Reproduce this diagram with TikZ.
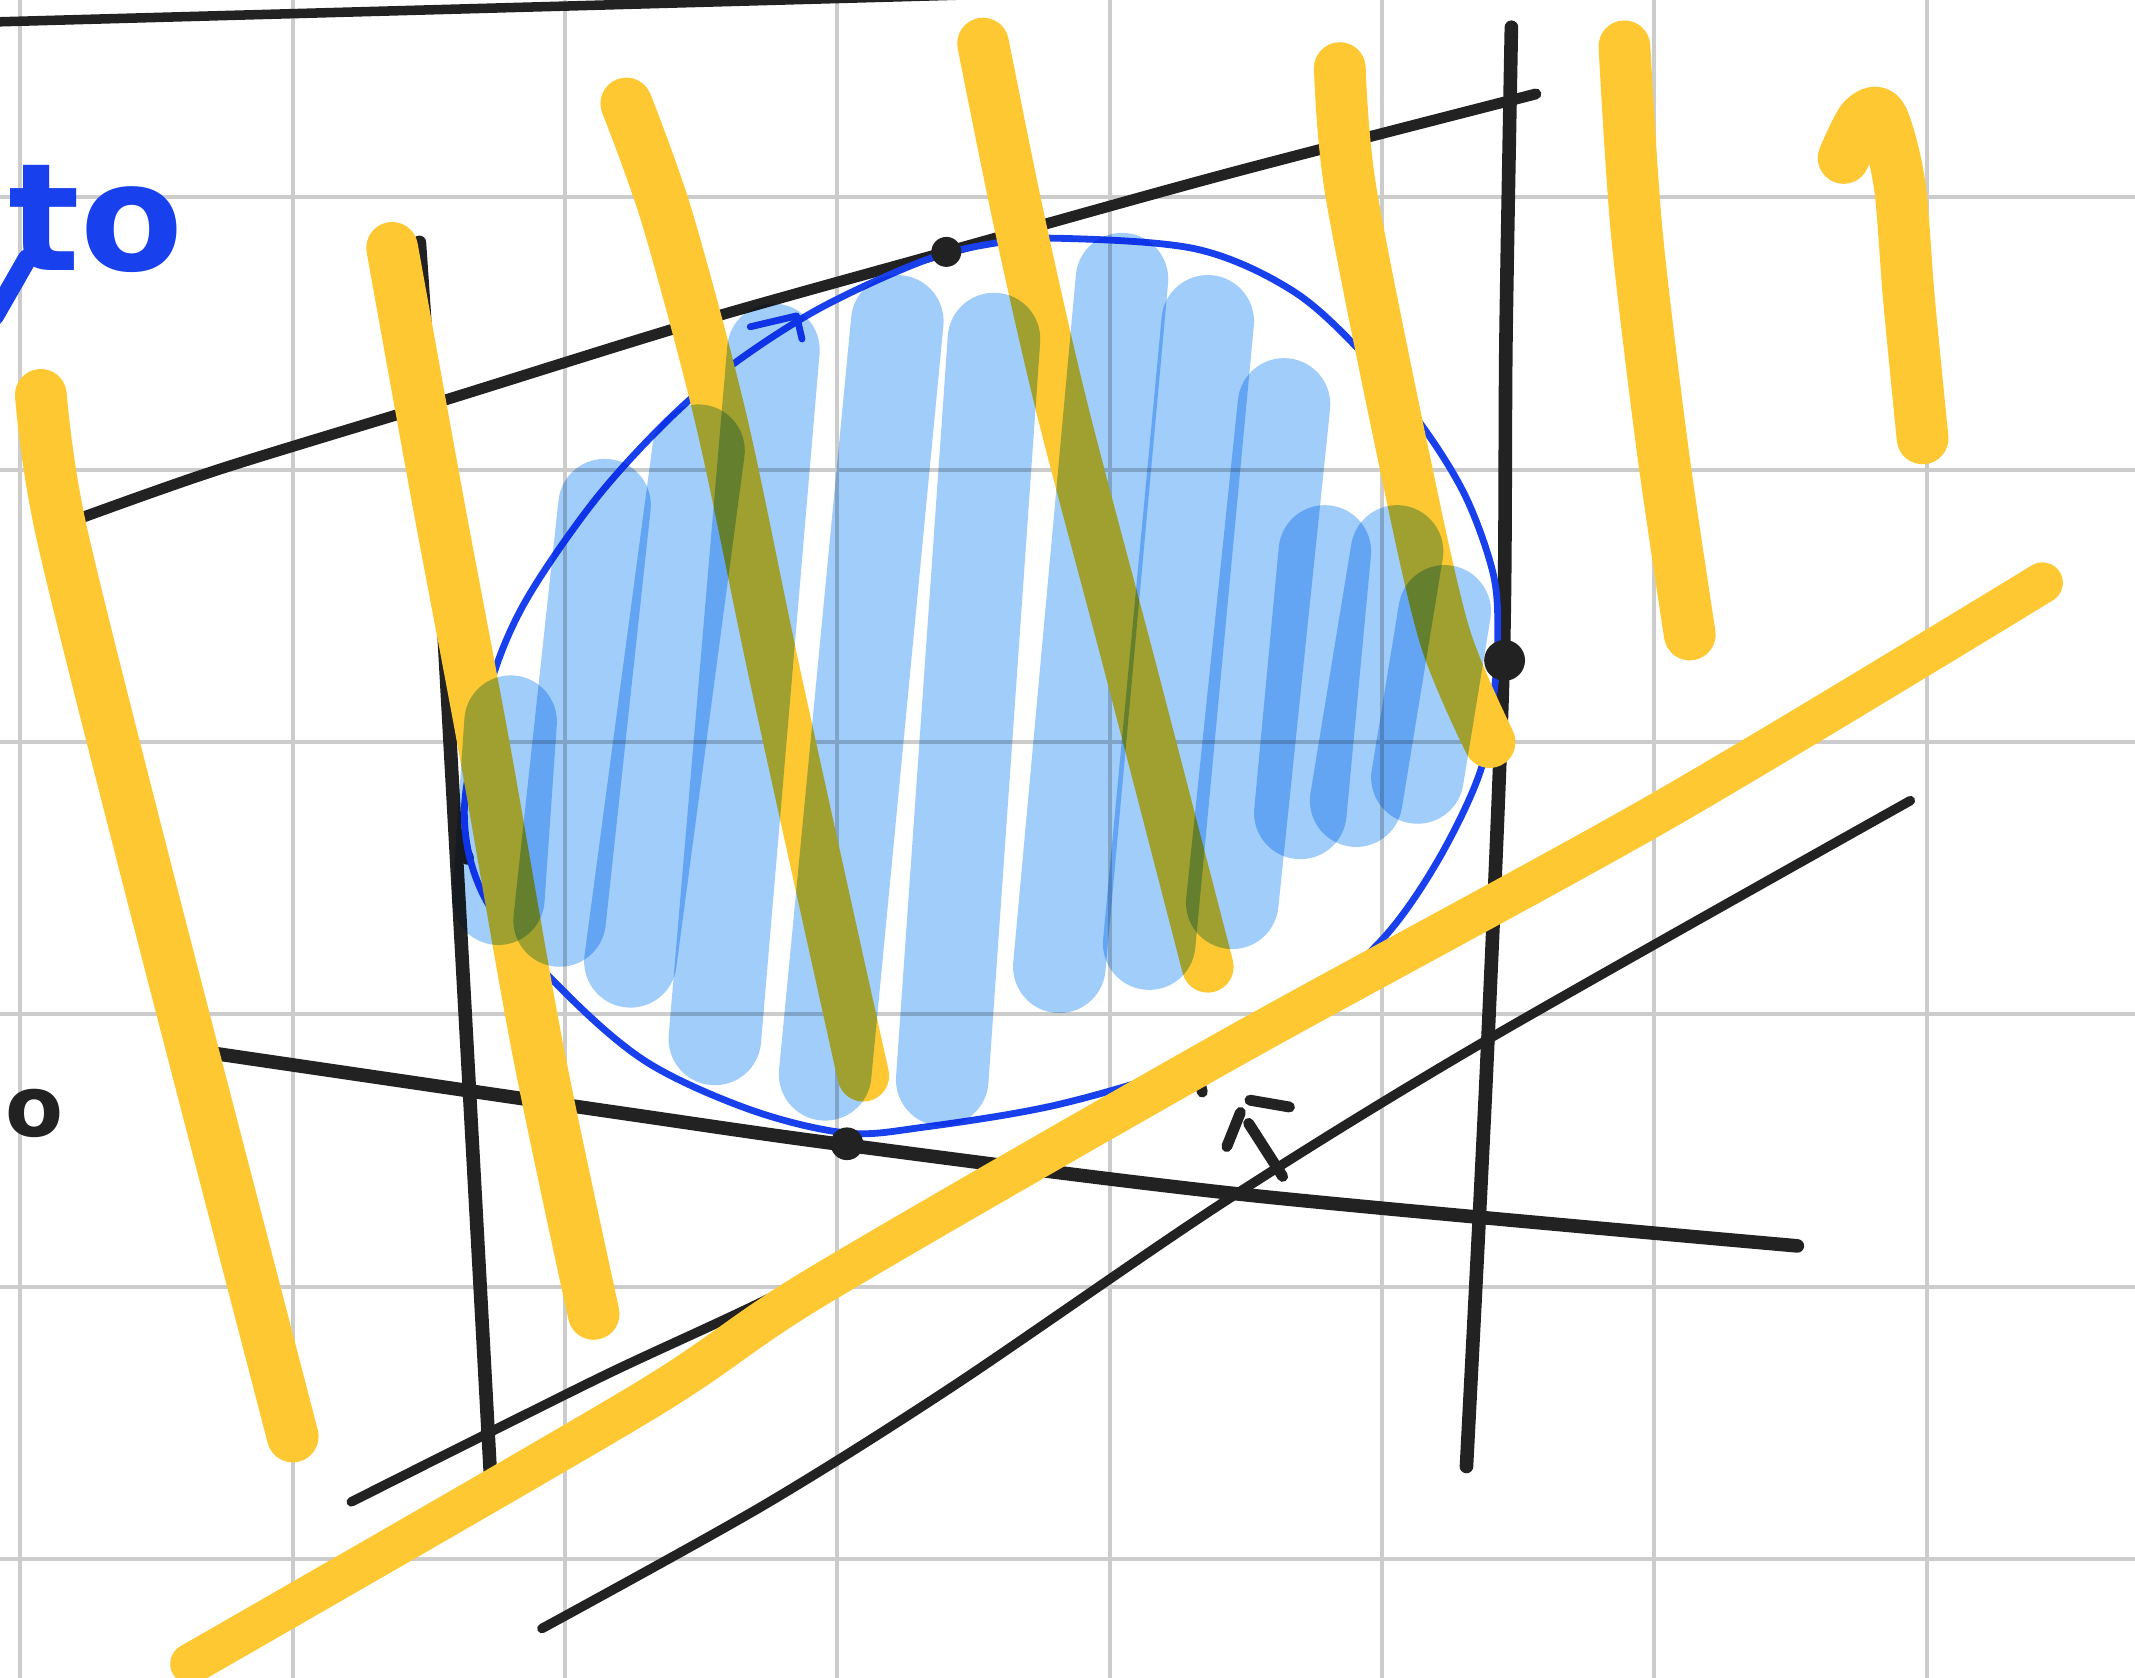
\documentclass[tikz,border=0pt]{standalone}
\usepackage{fontspec}
\newfontfamily\handfont{DejaVu Sans}
\definecolor{gridgray}{RGB}{204,204,204}
\definecolor{inkblack}{RGB}{34,34,34}
\definecolor{penblue}{RGB}{24,64,236}
\definecolor{fillblue}{RGB}{55,150,244}
\definecolor{hlyellow}{RGB}{254,200,50}
\tikzset{
  gridline/.style={draw=gridgray,line width=3pt},
  ink/.style={draw=inkblack,line width=8pt,line cap=round,line join=round},
  thickink/.style={ink,line width=10pt},
  hl/.style={draw=hlyellow,line width=38pt,line cap=round,line join=round},
  scrib/.style={draw=fillblue,draw opacity=0.47,line width=68pt,line cap=round},
  outline/.style={draw=penblue,line width=5pt,line cap=round,line join=round},
  dot/.style={fill=inkblack,draw=none}
}
\begin{document}
\begin{tikzpicture}[x=1pt,y=-1pt]
\useasboundingbox (0,0) rectangle (1568,1232);
\fill[white] (0,0) rectangle (1568,1232);
% grid
\foreach \gx in {15,215,...,1415} \draw[gridline] (\gx,0) -- (\gx,1232);
\foreach \gy in {145,345,...,1145} \draw[gridline] (0,\gy) -- (1568,\gy);

% black lines
\draw[ink,line width=7pt] (0,16) -- (720,-4);
\draw[ink] plot[smooth,tension=0.5] coordinates {(55,382) (160,345) (323,295) (510,237) (695,185) (900,128) (1128,69)};
\draw[thickink] plot[smooth,tension=0.5] coordinates {(308,178) (320,360) (335,625) (348,860) (360,1080)};
\draw[thickink] (335,612) -- (343,630);
\draw[thickink] plot[smooth,tension=0.5] coordinates {(1110,20) (1106,250) (1104,485) (1092,780) (1077,1077)};
\draw[thickink] plot[smooth,tension=0.5] coordinates {(160,774) (460,818) (622,841) (920,878) (1320,915)};
\draw[ink,line width=7pt] plot[smooth,tension=0.5] coordinates {(258,1103) (440,1012) (600,936) (900,776) (1220,600) (1463,462)};
\draw[ink] (880,790) -- (883,802);
\draw[ink,line width=7pt] plot[smooth,tension=0.5] coordinates {(398,1196) (560,1106) (700,1018) (900,882) (1090,765) (1403,588)};
% small hat mark
\draw[ink] (901,842) -- (911,817);
\draw[ink] (918,808) -- (947,813);
\draw[ink] (917,825) -- (942,864);

% blue outline
\draw[outline] plot[smooth cycle, tension=0.55] coordinates {
 (778,175) (879,183) (950,214) (1003,262) (1046,315) (1077,366) (1097,423)
 (1100,470) (1097,510) (1087,567) (1056,632) (1016,689) (960,737) (879,780)
 (778,811) (677,828) (621,832) (551,815) (475,780) (414,728) (358,663)
 (341,597) (358,510) (384,445) (434,371) (485,314) (535,270) (601,227)
 (677,192) (728,179)};
\draw[outline] (551,240) -- (585,232) -- (589,249);

% text
\node[anchor=base west,inner sep=0pt,text=penblue,font=\handfont\bfseries\fontsize{110}{110}\selectfont] (towd) at (6,199) {to};
\draw[draw=penblue,line width=14pt,line cap=round] (-4,232) -- (20,190);
\node[inner sep=0pt,text=inkblack,font=\handfont\bfseries\fontsize{62}{62}\selectfont] (oletter) at (25,818) {o};

% yellow highlighter strokes (opaque over ink)
\draw[hl] plot[smooth,tension=0.5] coordinates {(30,290) (45,390) (110,650) (215,1055)};
\draw[hl] plot[smooth,tension=0.5] coordinates {(288,182) (322,370) (356,551) (395,771) (436,965)};
\draw[hl] plot[smooth,tension=0.5] coordinates {(460,76) (490,160) (530,310) (570,500) (634,790)};
\draw[hl] plot[smooth,tension=0.5] coordinates {(722,32) (748,160) (780,300) (830,490) (887,710)};
\draw[hl] plot[smooth,tension=0.5] coordinates {(984,50) (992,140) (1031,336) (1061,467) (1094,545)};
\draw[hl] plot[smooth,tension=0.5] coordinates {(1193,34) (1202,170) (1221,330) (1241,466)};
\draw[hl] plot[smooth,tension=0.5] coordinates {(1354,116) (1368,88) (1382,86) (1395,135) (1402,220) (1412,322)};
\draw[hl,line width=30pt] plot[smooth,tension=0.5] coordinates {(140,1222) (470,1031) (600,945) (900,772) (1220,596) (1500,428)};

% light blue scribble fill, multiplied over everything
\begin{scope}[blend mode=multiply]
\draw[scrib] (375,530) -- (366,660);
\draw[scrib] (444,371) -- (411,676);
\draw[scrib] (513,331) -- (463,706);
\draw[scrib] (568,257) -- (525,763);
\draw[scrib] (659,236) -- (606,789);
\draw[scrib] (730,249) -- (692,793);
\draw[scrib] (824,205) -- (778,710);
\draw[scrib] (887,236) -- (844,693);
\draw[scrib] (943,297) -- (905,663);
\draw[scrib] (973,405) -- (955,597);
\draw[scrib] (1026,405) -- (996,588);
\draw[scrib] (1061,449) -- (1041,571);
\end{scope}

% dots
\fill[dot] (695,185) circle (11);
\fill[dot] (1105,485) circle (15);
\fill[dot] (622,840) circle (12);
\end{tikzpicture}
\end{document}
